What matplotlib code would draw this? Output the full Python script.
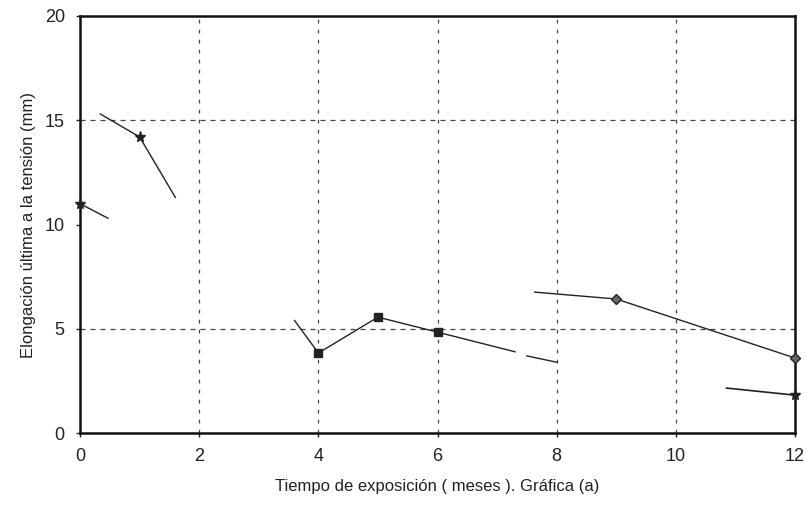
import matplotlib
matplotlib.use("Agg")
import matplotlib.pyplot as plt

plt.rcParams["font.family"] = ["Liberation Sans", "DejaVu Sans"]

# visible strokes of the scanned curves (months, mm)
seg1_x = [0, 0.47]
seg1_y = [11.0, 10.3]
seg2_x = [0.34, 1.0, 1.6]
seg2_y = [15.3, 14.2, 11.3]
seg3_x = [3.6, 4, 5, 6, 7.3]
seg3_y = [5.4, 3.84, 5.56, 4.84, 3.9]
seg4_x = [7.5, 8.0]
seg4_y = [3.7, 3.4]
seg5_x = [7.63, 9, 12]
seg5_y = [6.76, 6.43, 3.6]
seg6_x = [10.85, 12]
seg6_y = [2.16, 1.82]

x_ticks = [0, 2, 4, 6, 8, 10, 12]
y_ticks = [0, 5, 10, 15, 20]
x_grid = [2, 4, 6, 8, 10]
y_grid = [5, 15]

fig = plt.figure(figsize=(8.06, 5.15), dpi=100)
ax = fig.add_axes([0.0993, 0.159, 0.8871, 0.81])

for v in x_grid:
    ax.axvline(v, color="#444444", lw=0.9, ls=(0, (3, 5)), zorder=1)
for v in y_grid:
    ax.axhline(v, color="#444444", lw=0.9, ls=(0, (4, 4)), zorder=1)

lc = "#222222"
ax.plot(seg1_x, seg1_y, color=lc, lw=1.0, zorder=3)
ax.plot(seg1_x[:1], seg1_y[:1], ls="none", marker="*", ms=8, color=lc,
        zorder=4, clip_on=False)
ax.plot(seg2_x, seg2_y, color=lc, lw=1.0, zorder=3)
ax.plot(seg2_x[1:2], seg2_y[1:2], ls="none", marker="*", ms=8, color=lc, zorder=4)
ax.plot(seg3_x, seg3_y, color=lc, lw=1.0, zorder=3)
ax.plot(seg3_x[1:4], seg3_y[1:4], ls="none", marker="s", ms=6, color=lc, zorder=4)
ax.plot(seg4_x, seg4_y, color=lc, lw=1.0, zorder=3)
ax.plot(seg5_x, seg5_y, color=lc, lw=1.0, zorder=3)
ax.plot(seg5_x[1:], seg5_y[1:], ls="none", marker="D", ms=5, color=lc,
        mfc="#666666", zorder=4, clip_on=False)
ax.plot(seg6_x, seg6_y, color=lc, lw=1.2, zorder=3)
ax.plot(seg6_x[1:], seg6_y[1:], ls="none", marker="*", ms=8, color=lc,
        zorder=4, clip_on=False)

ax.set_xlim(0, 12)
ax.set_ylim(0, 20)
ax.set_xticks(x_ticks)
ax.set_yticks(y_ticks)
ax.tick_params(labelsize=13, colors="#222222", length=3, width=1, pad=8)
for s in ax.spines.values():
    s.set_linewidth(1.8)
    s.set_color("#111111")

ax.set_xlabel("Tiempo de exposición ( meses ). Gráfica (a)", fontsize=12,
              color="#222222", labelpad=10)
ax.set_ylabel("Elongación última a la tensión (mm)", fontsize=12,
              color="#222222", labelpad=6)

fig.savefig("out.png", dpi=100)
